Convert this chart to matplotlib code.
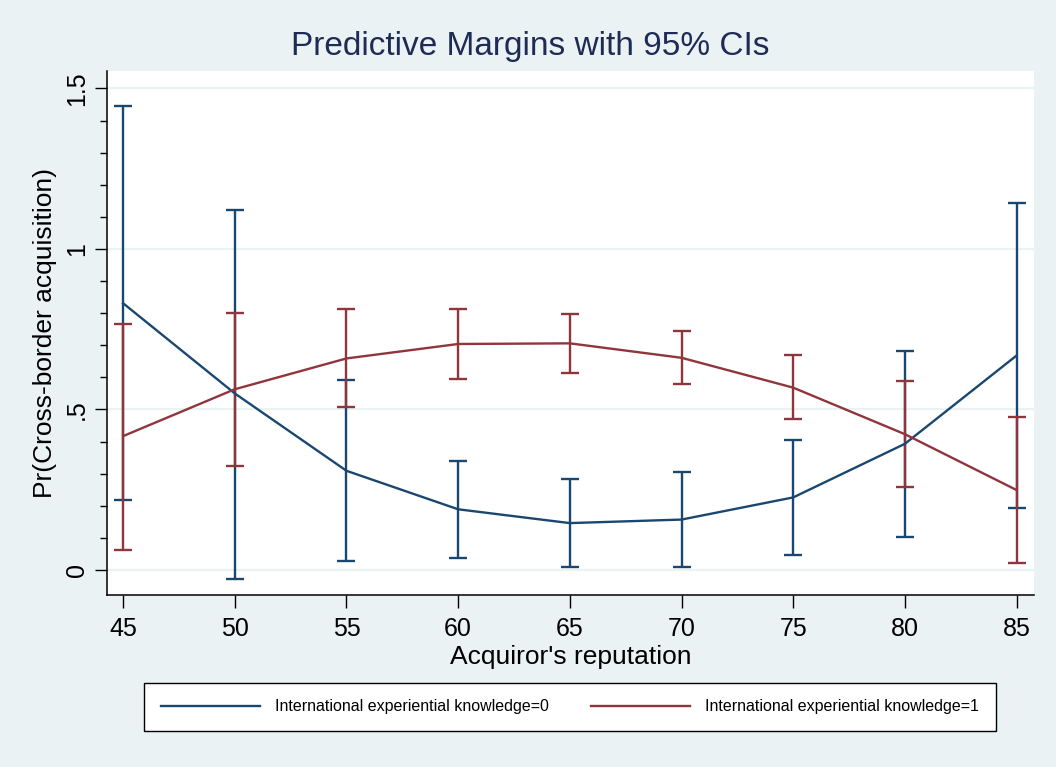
import matplotlib
matplotlib.use("Agg")
import matplotlib.pyplot as plt
from matplotlib.ticker import MultipleLocator
import numpy as np

# Data
reputation = [45, 50, 55, 60, 65, 70, 75, 80, 85]
k0_margin = [0.831, 0.550, 0.309, 0.189, 0.146, 0.157, 0.226, 0.393, 0.668]
k0_lower = [0.218, -0.028, 0.029, 0.038, 0.009, 0.008, 0.047, 0.103, 0.194]
k0_upper = [1.447, 1.122, 0.592, 0.339, 0.283, 0.304, 0.406, 0.682, 1.143]
k1_margin = [0.417, 0.563, 0.659, 0.704, 0.706, 0.661, 0.568, 0.423, 0.249]
k1_lower = [0.063, 0.324, 0.508, 0.596, 0.614, 0.579, 0.470, 0.258, 0.023]
k1_upper = [0.765, 0.800, 0.812, 0.813, 0.798, 0.746, 0.669, 0.589, 0.477]
xticks = [45, 50, 55, 60, 65, 70, 75, 80, 85]
yticks = [0, 0.5, 1, 1.5]
ytick_labels = ["0", ".5", "1", "1.5"]
labels = ["International experiential knowledge=0", "International experiential knowledge=1"]

NAVY = "#1a476f"
MAROON = "#90353b"
BG = "#eaf2f3"

plt.rcParams['font.family'] = ['Liberation Sans', 'DejaVu Sans']

W, H = 1056, 767
fig = plt.figure(figsize=(W / 100, H / 100), dpi=100, facecolor=BG)
ax = fig.add_axes([107 / W, (H - 595) / H, (1034 - 107) / W, (595 - 71) / H])
ax.set_facecolor("white")

for yv in yticks:
    ax.axhline(yv, color=BG, lw=1.6, zorder=0)

def draw_err(x, lo, hi, color, z):
    x = np.array(x); lo = np.array(lo); hi = np.array(hi)
    mid = (lo + hi) / 2
    ax.errorbar(x, mid, yerr=[mid - lo, hi - mid], fmt='none', ecolor=color,
                elinewidth=1.7, capsize=6.5, capthick=1.7, zorder=z)

draw_err(reputation, k0_lower, k0_upper, NAVY, 2)
draw_err(reputation, k1_lower, k1_upper, MAROON, 3)
l0, = ax.plot(reputation, k0_margin, color=NAVY, lw=1.7, zorder=4, label=labels[0])
l1, = ax.plot(reputation, k1_margin, color=MAROON, lw=1.7, zorder=5, label=labels[1])

ax.set_xlim(44.28, 85.78)
ax.set_ylim(-0.078, 1.5545)
ax.set_xticks(xticks)
ax.set_yticks(yticks)
ax.set_yticklabels(ytick_labels, rotation=90, va='center')
ax.yaxis.set_minor_locator(MultipleLocator(0.1))
ax.tick_params(axis='x', which='major', labelsize=18, length=9, width=1, color='black', pad=7)
ax.tick_params(axis='y', which='major', labelsize=18, length=9, width=1, color='black', pad=4)
ax.tick_params(axis='y', which='minor', length=5, width=1)
for s in ['top', 'right']:
    ax.spines[s].set_visible(False)
for s in ['left', 'bottom']:
    ax.spines[s].set_linewidth(1.1)

ax.set_xlabel("Acquiror's reputation", fontsize=19, labelpad=3)
ax.set_ylabel("Pr(Cross-border acquisition)", fontsize=19, labelpad=6)

fig.text(0.502, (H - 47) / H, "Predictive Margins with 95% CIs", ha='center', va='center',
         fontsize=24, color="#1e2b55")

leg = fig.legend(handles=[l0, l1], labels=labels, loc='center',
                 bbox_to_anchor=(570 / W, (H - 707) / H),
                 ncol=2, frameon=True, fancybox=False, edgecolor='black',
                 facecolor='white', fontsize=11.5, handlelength=6.2, handletextpad=0.95,
                 columnspacing=2.6, borderaxespad=0, borderpad=1.05, framealpha=1)
leg.get_frame().set_linewidth(1.0)

fig.savefig("out.png", dpi=100, facecolor=BG)
